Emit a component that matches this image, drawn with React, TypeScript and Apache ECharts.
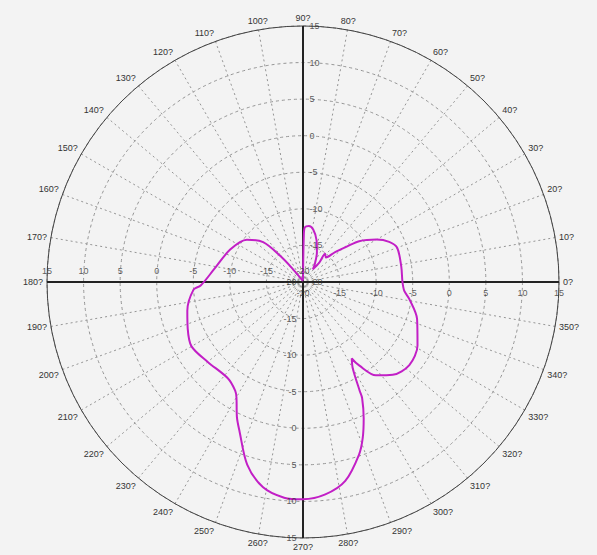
import React, { useEffect, useRef } from "react";
import * as echarts from "echarts";

// radial scale (dB)
const radialTicks = [-20, -15, -10, -5, 0, 5, 10, 15];
// angle labels every 10 degrees (the "?" is how the degree sign appears in the source)
const angleTicks = Array.from({ length: 36 }, (_, i) => i * 10);

// pattern: [angle (deg), level (dB)], traced in drawing order
const patternAngles = [
  90, 89, 88, 84, 79, 72, 65, 57, 52, 50, 52, 47, 43, 39, 36, 30, 25, 20, 9, 0,
  355, 351, 342, 331, 322, 314, 308, 304, 302.5, 300, 297.5, 297, 294, 291, 288,
  282, 276, 270, 265, 259, 253, 247, 244, 240, 238, 232, 220, 210, 202, 194, 184,
  182, 172, 156, 143, 135, 131, 128, 120, 100, 90,
];
const patternLevels = [
  -19.8, -13.5, -12.5, -12.3, -12.7, -14.0, -15.5, -17.0, -17.8, -16.5, -15.1,
  -15.4, -14.0, -12.3, -10.5, -8.4, -7.0, -6.3, -6.4, -6.4,
  -6.1, -5.3, -3.6, -2.1, -1.55, -2.35, -3.8, -6.2, -7.6, -6.4, -3.2, -2.2, 0.4,
  2.8, 4.8, 7.8, 9.2, 9.7, 9.6, 8.6, 6.1, 2.2, 0.6, -1.8, -2.5, -3.3, -3.0, -2.4,
  -3.0, -3.7, -5.0, -6.0, -7.7, -9.1, -10.4, -12.3, -15.3, -17.8, -19.5, -19.8,
  -19.8,
];

export default function App() {
  const ref = useRef<HTMLDivElement>(null);

  useEffect(() => {
    if (!ref.current) return;
    const chart = echarts.init(ref.current, undefined, { renderer: "svg" });
    const font = "Liberation Sans, Arial, sans-serif";
    const labelSeries = (angle: number, position: string, distance: number) => ({
      type: "scatter",
      coordinateSystem: "polar",
      symbol: "circle",
      symbolSize: 1,
      itemStyle: { color: "rgba(0,0,0,0)" },
      silent: true,
      z: 5,
      data: radialTicks.map((v) => [v, angle]),
      label: {
        show: true,
        position,
        distance,
        fontSize: 9,
        fontFamily: font,
        color: "#333",
        formatter: (p: any) => String(p.value[0]),
      },
    });
    chart.setOption({
      animation: false,
      backgroundColor: "#f3f3f3",
      polar: { center: [303, 282], radius: 256 },
      angleAxis: {
        type: "value",
        min: 0,
        max: 360,
        interval: 10,
        startAngle: 0,
        clockwise: false,
        axisLine: { show: true, lineStyle: { color: "#444", width: 1 } },
        axisTick: { show: false },
        axisLabel: {
          show: true,
          margin: 4,
          fontSize: 9,
          fontFamily: font,
          color: "#333",
          formatter: (v: number) => (v >= 360 ? "" : v + "?"),
        },
        splitLine: {
          show: true,
          lineStyle: { color: "#959595", type: [2, 3], width: 1 },
        },
      },
      radiusAxis: {
        type: "value",
        min: -20,
        max: 15,
        interval: 5,
        axisLine: { show: false },
        axisTick: { show: false },
        axisLabel: { show: false },
        splitLine: {
          show: true,
          lineStyle: { color: "#959595", type: [3, 3], width: 1 },
        },
      },
      series: [
        {
          type: "line",
          coordinateSystem: "polar",
          symbol: "none",
          silent: true,
          z: 2,
          lineStyle: { color: "#222", width: 2 },
          data: [
            [15, 0],
            [15, 180],
          ],
        },
        {
          type: "line",
          coordinateSystem: "polar",
          symbol: "none",
          silent: true,
          z: 2,
          lineStyle: { color: "#222", width: 2 },
          data: [
            [15, 90],
            [15, 270],
          ],
        },
        {
          type: "line",
          coordinateSystem: "polar",
          symbol: "none",
          smooth: 0.3,
          z: 4,
          lineStyle: { color: "#c21fc6", width: 2 },
          data: patternAngles.map((a, i) => [patternLevels[i], a]),
        },
        labelSeries(0, "bottom", 6),
        labelSeries(180, "top", 6),
        labelSeries(90, "right", 6),
        labelSeries(270, "left", 6),
      ],
    });
    return () => chart.dispose();
  }, []);

  return (
    <div
      ref={ref}
      style={{
        position: "absolute",
        left: 0,
        top: 0,
        width: 597,
        height: 555,
        background: "#f3f3f3",
      }}
    />
  );
}
